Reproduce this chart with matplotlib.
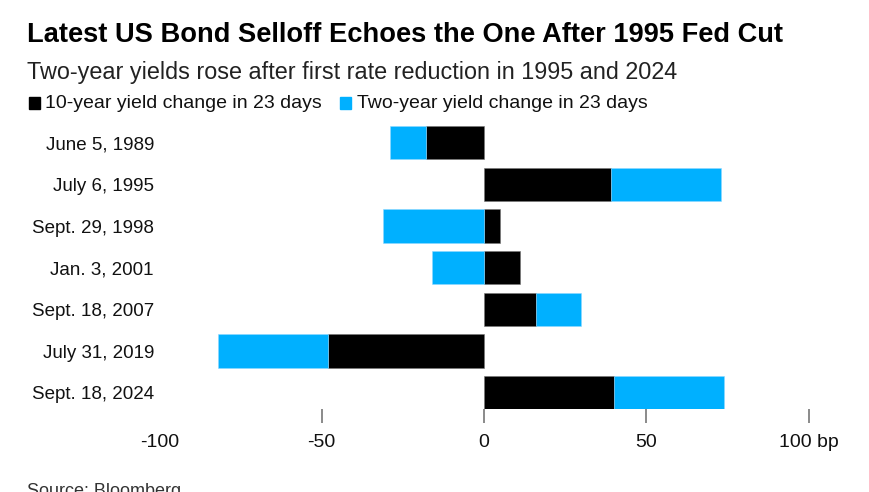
import matplotlib
matplotlib.use("Agg")
import matplotlib.pyplot as plt
from matplotlib.patches import Rectangle

plt.rcParams["font.family"] = ["Liberation Sans", "DejaVu Sans"]

# data (bp change in 23 days after first cut)
dates = ["June 5, 1989", "July 6, 1995", "Sept. 29, 1998", "Jan. 3, 2001",
         "Sept. 18, 2007", "July 31, 2019", "Sept. 18, 2024"]
ten_year = [-18, 39, 5, 11, 16, -48, 40]
two_year = [-11, 34, -31, -16, 14, -34, 34]
xticks = [-100, -50, 0, 50, 100]
xticklabels = ["-100", "-50", "0", "50", "100 bp"]

BLACK = "#000000"
BLUE = "#00B0FF"

fig = plt.figure(figsize=(8.7, 4.92), dpi=100)
ax = fig.add_axes([0.1833, 0.168, 0.9667 - 0.1833, 0.7608 - 0.168])

y = list(range(len(dates)))
# stack blue onto black only when both point the same way
lefts = [t if (t >= 0) == (w >= 0) else 0 for t, w in zip(ten_year, two_year)]
ax.barh(y, ten_year, height=0.8, color=BLACK, edgecolor="#777777", linewidth=0.4)
ax.barh(y, two_year, left=lefts, height=0.8, color=BLUE, edgecolor="#8fd8ff", linewidth=0.4)

ax.set_ylim(6.4, -0.6)
ax.set_xlim(-100, 110)
ax.set_yticks(y)
ax.set_yticklabels(dates, fontsize=13.5, color="#111111")
ax.tick_params(axis="y", length=0, pad=4)
ax.set_xticks(xticks)
ax.set_xticklabels(xticklabels, fontsize=14, color="#111111")
ax.tick_params(axis="x", length=10, width=1.2, color="#777777", pad=8)
ax.get_xticklines()[0].set_visible(False)
for s in ax.spines.values():
    s.set_visible(False)

fig.text(27 / 870, 1 - 35 / 492, "Latest US Bond Selloff Echoes the One After 1995 Fed Cut",
         fontsize=19.6, fontweight="bold", va="center", ha="left", color="#000000")
fig.text(27 / 870, 1 - 72 / 492, "Two-year yields rose after first rate reduction in 1995 and 2024",
         fontsize=16.8, va="center", ha="left", color="#222222")

# legend row
for x0, col, label, tx in [(29, BLACK, "10-year yield change in 23 days", 45),
                           (340, BLUE, "Two-year yield change in 23 days", 357)]:
    fig.patches.append(Rectangle((x0 / 870, 1 - 109 / 492), 11 / 870, 12 / 492,
                                 transform=fig.transFigure, color=col, figure=fig))
    fig.text(tx / 870, 1 - 103 / 492, label, fontsize=14, va="center", ha="left",
             color="#111111")

fig.text(27 / 870, 1 - 492 / 492, "Source: Bloomberg", fontsize=13, va="center", ha="left",
         color="#333333")

fig.savefig("out.png", dpi=100)
